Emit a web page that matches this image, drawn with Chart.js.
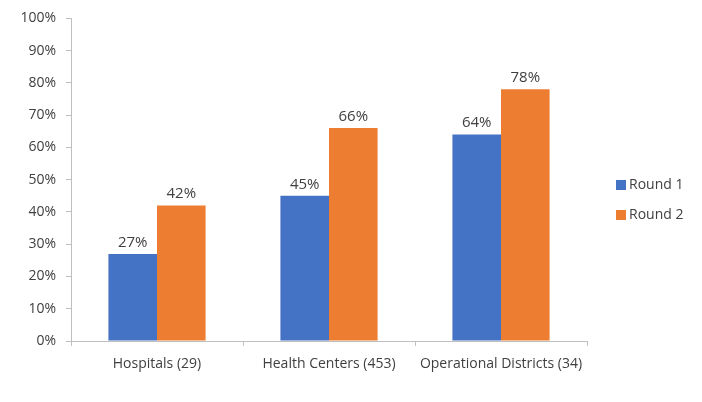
<!DOCTYPE html>
<html>
<head>
<meta charset="utf-8">
<script src="https://cdn.jsdelivr.net/npm/chart.js@4.4.1/dist/chart.umd.min.js"></script>
<style>
  html, body { margin: 0; padding: 0; background: #fff; }
  #wrap { width: 702px; height: 402px; }
</style>
</head>
<body>
<div id="wrap"><canvas id="roundChart" width="702" height="402"></canvas></div>
<script>
// categories and values
const categories = ['Hospitals (29)', 'Health Centers (453)', 'Operational Districts (34)'];
const round1 = [27, 45, 64];
const round2 = [42, 66, 78];
const seriesNames = ['Round 1', 'Round 2'];
const seriesColors = ['#4472C4', '#ED7D31'];

const FONT = "'Open Sans', 'DejaVu Sans', sans-serif";
const axisGray = '#bfbfbf';

// value labels above each bar
const barLabels = {
    id: 'barLabels',
    afterDatasetsDraw(chart) {
        const ctx = chart.ctx;
        ctx.save();
        ctx.font = '15px ' + FONT;
        ctx.fillStyle = '#404040';
        ctx.textAlign = 'center';
        ctx.textBaseline = 'bottom';
        chart.data.datasets.forEach((ds, di) => {
            chart.getDatasetMeta(di).data.forEach((bar, i) => {
                ctx.fillText(ds.data[i] + '%', bar.x, bar.y - 4);
            });
        });
        ctx.restore();
    }
};

// legend on the right, stacked like the original
const sideLegend = {
    id: 'sideLegend',
    afterDraw(chart) {
        const ctx = chart.ctx;
        const x = chart.chartArea.right + 29;
        let y = 185;
        ctx.save();
        ctx.font = '14px ' + FONT;
        ctx.textBaseline = 'middle';
        chart.data.datasets.forEach(ds => {
            ctx.fillStyle = ds.backgroundColor;
            ctx.fillRect(x, y - 5, 10, 10);
            ctx.fillStyle = '#404040';
            ctx.fillText(ds.label, x + 13, y);
            y += 30;
        });
        ctx.restore();
    }
};

new Chart(document.getElementById('roundChart'), {
    type: 'bar',
    data: {
        labels: categories,
        datasets: [
            { label: seriesNames[0], data: round1, backgroundColor: seriesColors[0] },
            { label: seriesNames[1], data: round2, backgroundColor: seriesColors[1] }
        ]
    },
    options: {
        responsive: false,
        animation: false,
        layout: { padding: { top: 16, left: 20, right: 115, bottom: 29 } },
        datasets: {
            bar: { categoryPercentage: 0.565, barPercentage: 1.0 }
        },
        plugins: {
            legend: { display: false },
            tooltip: { enabled: false }
        },
        scales: {
            x: {
                afterFit(scale) { scale.height = 32; },
                grid: { drawOnChartArea: false, color: axisGray, tickLength: 5, offset: true },
                border: { color: axisGray },
                ticks: { color: '#404040', font: { family: FONT, size: 14 }, padding: 10 }
            },
            y: {
                min: 0,
                max: 100,
                afterFit(scale) { scale.width = 51; },
                grid: { drawOnChartArea: false, color: axisGray, tickLength: 5 },
                border: { color: axisGray },
                ticks: {
                    stepSize: 10,
                    color: '#404040',
                    padding: 10,
                    font: { family: FONT, size: 14 },
                    callback: v => v + '%'
                }
            }
        }
    },
    plugins: [barLabels, sideLegend]
});
</script>
</body>
</html>
